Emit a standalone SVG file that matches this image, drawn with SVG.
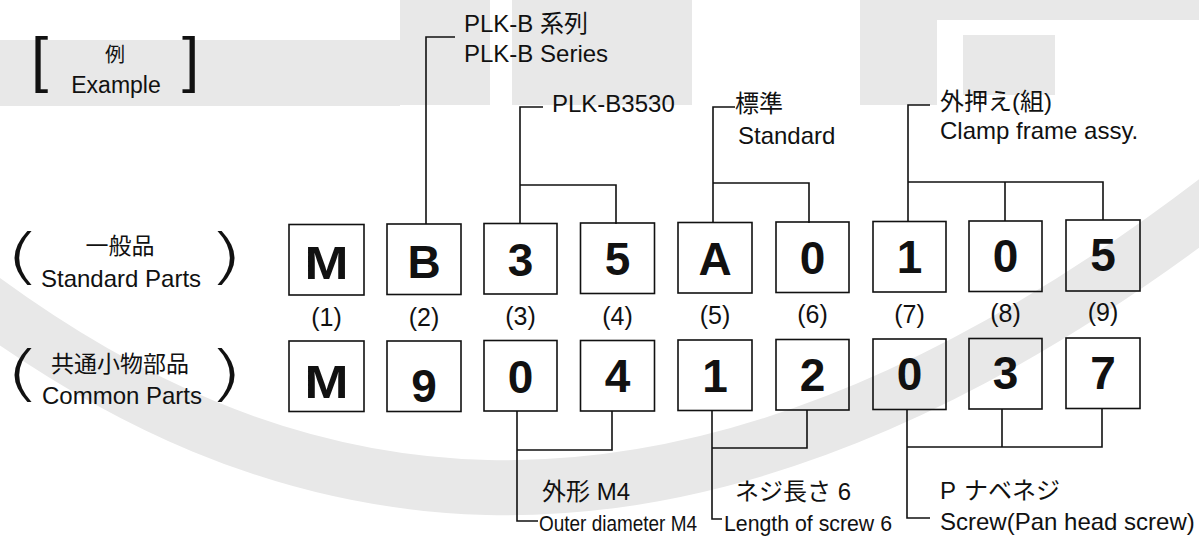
<svg xmlns="http://www.w3.org/2000/svg" width="1199" height="538" viewBox="0 0 1199 538">
<style>
.wm{fill:#e8e8e8;stroke:none}
.box{fill:none;stroke:#111;stroke-width:1.6}
.ch{font-family:"Liberation Sans",Arial,sans-serif;font-weight:bold;font-size:46px;fill:#111;text-anchor:middle}
.num{font-family:"Liberation Sans",Arial,sans-serif;font-size:25px;fill:#111;text-anchor:middle}
.t{font-family:"Liberation Sans","Noto Sans CJK JP",sans-serif;font-size:24px;fill:#111}
.tc{font-family:"Liberation Sans","Noto Sans CJK JP",sans-serif;font-size:23px;fill:#111;text-anchor:middle}
.par{font-family:"DejaVu Sans",sans-serif;font-weight:200;font-size:60px;fill:#111}
.brk{font-family:"Liberation Sans",Arial,sans-serif;font-size:62px;fill:#111}
.ln{fill:none;stroke:#111;stroke-width:1.6}
</style>
<rect width="1199" height="538" fill="#ffffff"/>
<g id="watermark">
<rect class="wm" x="0" y="40" width="400" height="66"/>
<rect class="wm" x="400" y="0" width="90" height="105"/>
<rect class="wm" x="512" y="0" width="180" height="105"/>
<path class="wm" d="M860 0 H1199 V20 H937 V105 H860 Z"/>
<rect class="wm" x="963" y="35" width="92" height="60"/>
<path d="M-30 290 C 250 500 650 640 1230 190" fill="none" stroke="#e8e8e8" stroke-width="55"/>
</g>
<g id="example-label">
<text class="brk" x="31" y="80">[</text>
<text class="brk" x="182" y="80">]</text>
<text class="tc" x="115" y="62" style="font-size:20px">例</text>
<text class="tc" x="116" y="93">Example</text>
</g>
<g id="row-label-standard">
<text class="par" transform="translate(4,277) scale(1.6,1)">(</text>
<text class="par" transform="translate(207,277) scale(1.6,1)">)</text>
<text class="tc" x="120" y="254">一般品</text>
<text class="tc" x="121" y="287" style="font-size:24px">Standard Parts</text>
</g>
<g id="row-label-common">
<text class="par" transform="translate(4,394) scale(1.6,1)">(</text>
<text class="par" transform="translate(207,394) scale(1.6,1)">)</text>
<text class="tc" x="120" y="372">共通小物部品</text>
<text class="tc" x="122" y="404" style="font-size:24px">Common Parts</text>
</g>
<g id="connectors">
<path class="ln" d="M426 224 V37 H455"/>
<path class="ln" d="M520 224 V107 H543 M520 185 H616 V224"/>
<path class="ln" d="M713 223 V107 H735 M713 183 H809 V223"/>
<path class="ln" d="M908 222 V105 H930 M908 182 H1103 V220 M1005 182 V221"/>
<path class="ln" d="M517 411 V521 H538 M517 450 H612 V411"/>
<path class="ln" d="M712 410 V519 H722 M712 448 H807 V410"/>
<path class="ln" d="M907 409 V518 H930 M907 447 H1102 V408 M1002 447 V409"/>
</g>
<g id="top-labels">
<text class="t" x="464" y="32">PLK-B 系列</text>
<text class="t" x="464" y="62">PLK-B Series</text>
<text class="t" x="552" y="112">PLK-B3530</text>
<text class="t" x="735" y="112">標準</text>
<text class="t" x="738" y="144">Standard</text>
<text class="t" x="940" y="110">外押え(組)</text>
<text class="t" x="940" y="139">Clamp frame assy.</text>
</g>
<g id="bottom-labels">
<text class="t" x="542" y="500">外形 M4</text>
<text class="t" x="539" y="531" style="font-size:22px" textLength="158" lengthAdjust="spacingAndGlyphs">Outer diameter M4</text>
<text class="t" x="735" y="500">ネジ長さ 6</text>
<text class="t" x="724" y="531" style="font-size:22px" textLength="168" lengthAdjust="spacingAndGlyphs">Length of screw 6</text>
<text class="t" x="940" y="499">P<tspan dx="8">ナベネジ</tspan></text>
<text class="t" x="940" y="530">Screw(Pan head screw)</text>
</g>
<g id="std-1"><rect class="box" x="289" y="224.5" width="75" height="70.5"/><text class="ch" x="326.5" y="279" textLength="44" lengthAdjust="spacingAndGlyphs">M</text></g>
<g id="std-2"><rect class="box" x="387" y="224" width="74" height="70.5"/><text class="ch" x="424" y="278">B</text></g>
<g id="std-3"><rect class="box" x="484" y="223.5" width="73" height="70.5"/><text class="ch" x="520.5" y="276">3</text></g>
<g id="std-4"><rect class="box" x="580.5" y="223" width="74" height="70.5"/><text class="ch" x="617.5" y="275">5</text></g>
<g id="std-5"><rect class="box" x="678" y="222.5" width="74" height="70.5"/><text class="ch" x="715" y="275">A</text></g>
<g id="std-6"><rect class="box" x="776" y="222" width="73" height="70.5"/><text class="ch" x="812.5" y="274">0</text></g>
<g id="std-7"><rect class="box" x="873" y="221.5" width="73" height="70.5"/><text class="ch" x="909.5" y="273">1</text></g>
<g id="std-8"><rect class="box" x="969" y="221" width="73" height="70.5"/><text class="ch" x="1005.5" y="272">0</text></g>
<g id="std-9"><rect class="box" x="1066" y="220" width="74" height="71"/><text class="ch" x="1103" y="271">5</text></g>
<g id="positions">
<text class="num" x="326.5" y="326">(1)</text>
<text class="num" x="424" y="325.5">(2)</text>
<text class="num" x="520.5" y="325">(3)</text>
<text class="num" x="617.5" y="324.5">(4)</text>
<text class="num" x="715" y="324">(5)</text>
<text class="num" x="812.5" y="323">(6)</text>
<text class="num" x="909.5" y="322.5">(7)</text>
<text class="num" x="1005.5" y="321.5">(8)</text>
<text class="num" x="1103" y="321">(9)</text>
</g>
<g id="com-1"><rect class="box" x="289" y="341" width="75" height="70.5"/><text class="ch" x="326.5" y="398" textLength="44" lengthAdjust="spacingAndGlyphs">M</text></g>
<g id="com-2"><rect class="box" x="387" y="341" width="74" height="70.5"/><text class="ch" x="424" y="402">9</text></g>
<g id="com-3"><rect class="box" x="484" y="340.5" width="73" height="70.5"/><text class="ch" x="520.5" y="393">0</text></g>
<g id="com-4"><rect class="box" x="580.5" y="340.5" width="74" height="70.5"/><text class="ch" x="617.5" y="392">4</text></g>
<g id="com-5"><rect class="box" x="678" y="340" width="74" height="70.5"/><text class="ch" x="715" y="392">1</text></g>
<g id="com-6"><rect class="box" x="776" y="339.5" width="73" height="70.5"/><text class="ch" x="812.5" y="391">2</text></g>
<g id="com-7"><rect class="box" x="873" y="339" width="73" height="70.5"/><text class="ch" x="909.5" y="390">0</text></g>
<g id="com-8"><rect class="box" x="969" y="338.5" width="73" height="70.5"/><text class="ch" x="1005.5" y="389">3</text></g>
<g id="com-9"><rect class="box" x="1066" y="338" width="74" height="70.5"/><text class="ch" x="1103" y="389">7</text></g>
</svg>
